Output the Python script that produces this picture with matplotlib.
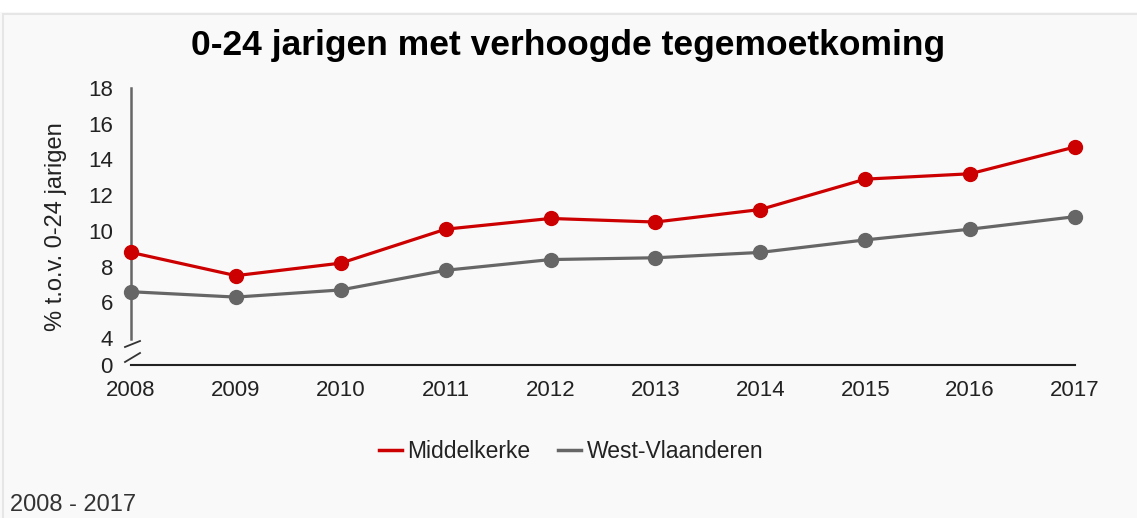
import matplotlib
matplotlib.use("Agg")
import matplotlib.pyplot as plt
from matplotlib.patches import Rectangle
import numpy as np

plt.rcParams['font.family'] = ['Liberation Sans', 'DejaVu Sans']

years = [2008, 2009, 2010, 2011, 2012, 2013, 2014, 2015, 2016, 2017]
middelkerke = [8.8, 7.5, 8.2, 10.1, 10.7, 10.5, 11.2, 12.9, 13.2, 14.7]
west_vlaanderen = [6.6, 6.3, 6.7, 7.8, 8.4, 8.5, 8.8, 9.5, 10.1, 10.8]
y_ticks = [0, 4, 6, 8, 10, 12, 14, 16, 18]

red = '#cc0000'
grey = '#666666'
text_col = '#222222'


# broken axis: 0..4 squeezed into 1.5 units
def fwd(v):
    v = np.asarray(v, dtype=float)
    return np.where(v >= 4, v, 2.5 + v * 0.375)


def inv(y):
    y = np.asarray(y, dtype=float)
    return np.where(y >= 4, y, (y - 2.5) / 0.375)


fig = plt.figure(figsize=(11.37, 5.18), dpi=100, facecolor='#f9f9f9')
# top strip and panel border
fig.patches.append(Rectangle((0, 1 - 12 / 518), 1, 12 / 518, transform=fig.transFigure,
                             facecolor='#ffffff', edgecolor='none', zorder=0))
fig.patches.append(Rectangle((3 / 1137, -0.01), 1.1, 1 - 14 / 518 + 0.01, transform=fig.transFigure,
                             facecolor='none', edgecolor='#e6e6e6', lw=1.5, zorder=0))

ax = fig.add_axes([131 / 1137, 1 - 365 / 518, 944 / 1137, 277 / 518])
ax.set_facecolor('none')
ax.set_yscale('function', functions=(fwd, inv))

ax.plot(years, middelkerke, color=red, lw=2.3, marker='o', ms=10, clip_on=False,
        label='Middelkerke', zorder=3)
ax.plot(years, west_vlaanderen, color=grey, lw=2.3, marker='o', ms=10, clip_on=False,
        label='West-Vlaanderen', zorder=3)

ax.set_xlim(2008, 2017)
ax.set_ylim(0, 18)
ax.set_xticks(years)
ax.set_yticks(y_ticks)
ax.tick_params(axis='both', length=0, labelsize=16, labelcolor=text_col)
ax.tick_params(axis='y', pad=13)
ax.tick_params(axis='x', pad=11)

for s in ['top', 'right']:
    ax.spines[s].set_visible(False)
ax.spines['left'].set_bounds(3.85, 18)
ax.spines['left'].set_color('#666666')
ax.spines['left'].set_linewidth(1.8)
ax.spines['bottom'].set_color('#222222')
ax.spines['bottom'].set_linewidth(1.5)

# break marks
w, h = 944.0, 277.0
for y0, y1 in [(18, 24), (3, 12)]:
    ax.plot([-6 / w, 9 / w], [y0 / h, y1 / h], transform=ax.transAxes,
            color='#333333', lw=1.3, clip_on=False)

ax.set_ylabel('% t.o.v. 0-24 jarigen', fontsize=17, color=text_col)
ax.yaxis.set_label_coords(-64 / w, 0.5)

fig.text(0.5, 1 - 46 / 518, '0-24 jarigen met verhoogde tegemoetkoming',
         ha='center', va='center', fontsize=25.5, fontweight='bold', color='#000000')

leg = fig.legend(loc='center', bbox_to_anchor=(571 / 1137, 1 - 452 / 518), ncol=2, frameon=False,
                 fontsize=16.5, handlelength=1.0, handletextpad=0.25, columnspacing=1.2,
                 labelcolor=text_col)
for line in leg.get_lines():
    line.set_marker('')
    line.set_linewidth(2.5)

fig.text(10 / 1137, 1 - 505 / 518, '2008 - 2017', ha='left', va='center',
         fontsize=17, color='#333333')

fig.savefig('out.png', dpi=100, facecolor=fig.get_facecolor())
